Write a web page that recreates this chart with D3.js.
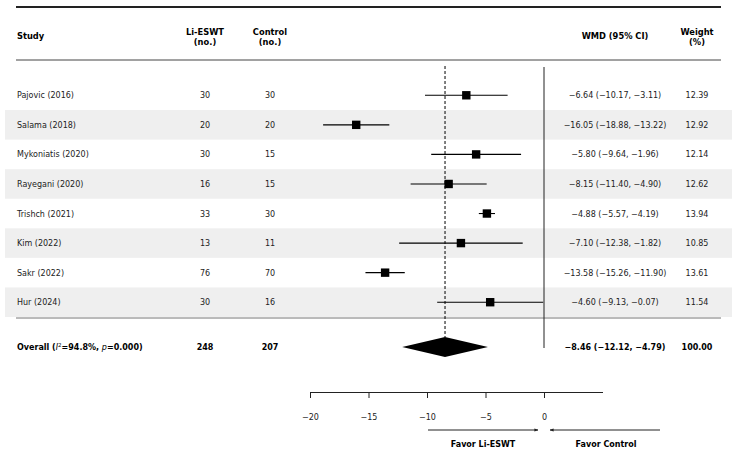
<!DOCTYPE html>
<html><head><meta charset="utf-8">
<script src="https://cdn.jsdelivr.net/npm/d3@7"></script>
<style>body{margin:0;background:#fff;} text{font-family:"DejaVu Sans",sans-serif;}</style>
</head><body><svg id="c" width="738" height="455"></svg>
<script>
const studies = ["Pajovic (2016)","Salama (2018)","Mykoniatis (2020)","Rayegani (2020)","Trishch (2021)","Kim (2022)","Sakr (2022)","Hur (2024)"];
const nTreat = [30,20,30,16,33,13,76,30];
const nCtrl = [30,20,15,15,30,11,70,16];
const wmd = [-6.64,-16.05,-5.80,-8.15,-4.88,-7.10,-13.58,-4.60];
const lo = [-10.17,-18.88,-9.64,-11.40,-5.57,-12.38,-15.26,-9.13];
const hi = [-3.11,-13.22,-1.96,-4.90,-4.19,-1.82,-11.90,-0.07];
const weight = [12.39,12.92,12.14,12.62,13.94,10.85,13.61,11.54];
const overall = {wmd:-8.46, lo:-12.12, hi:-4.79, nT:248, nC:207, w:100.00};
const ticks = [-20,-15,-10,-5,0];

const svg = d3.select("#c");
const x = d3.scaleLinear().domain([-20,0]).range([310,544]);
const y = d3.scaleBand().domain(studies).range([80.5,317]);
const yc = s => y(s)+y.bandwidth()/2;
const fmt = d3.format(".2f");
const m = v => fmt(v).replace(/-/g,"\u2212");

// shaded bands
svg.selectAll("rect.band").data(studies.filter((d,i)=>i%2===1)).enter().append("rect")
  .attr("x",5).attr("width",727).attr("y",d=>y(d)).attr("height",y.bandwidth()).attr("fill","#efefef");

// top lines
svg.append("line").attr("x1",16).attr("x2",721).attr("y1",7).attr("y2",7).attr("stroke","#222").attr("stroke-width",2);
svg.append("line").attr("x1",16).attr("x2",721).attr("y1",60).attr("y2",60).attr("stroke","#444").attr("stroke-width",1);
svg.append("line").attr("x1",16).attr("x2",721).attr("y1",318).attr("y2",318).attr("stroke","#777").attr("stroke-width",1);

// headers
const hdr = svg.append("g").attr("font-size",8.3).attr("font-weight","bold").attr("fill","#000");
hdr.append("text").attr("x",17).attr("y",39).text("Study");
[[205,"Li-ESWT","(no.)"],[270,"Control","(no.)"],[697,"Weight","(%)"]].forEach(([cx,a,b])=>{
  const t = hdr.append("text").attr("text-anchor","middle").attr("x",cx).attr("y",35);
  t.append("tspan").attr("x",cx).text(a);
  t.append("tspan").attr("x",cx).attr("dy",10).text(b);
});
hdr.append("text").attr("x",615).attr("y",39).attr("text-anchor","middle").text("WMD (95% CI)");

// reference lines
svg.append("line").attr("x1",x(0)).attr("x2",x(0)).attr("y1",67).attr("y2",348).attr("stroke","#222").attr("stroke-width",1);
svg.append("line").attr("x1",x(overall.wmd)).attr("x2",x(overall.wmd)).attr("y1",66).attr("y2",337).attr("stroke","#000").attr("stroke-width",1).attr("stroke-dasharray","3,2");

// rows
const rows = svg.selectAll("g.row").data(studies).enter().append("g").attr("font-size",8).attr("fill","#222");
rows.append("text").attr("x",17).attr("y",d=>yc(d)+3).text(d=>d);
rows.append("text").attr("x",205).attr("text-anchor","middle").attr("y",d=>yc(d)+3).text((d,i)=>nTreat[i]);
rows.append("text").attr("x",270).attr("text-anchor","middle").attr("y",d=>yc(d)+3).text((d,i)=>nCtrl[i]);
rows.append("text").attr("x",615).attr("text-anchor","middle").attr("y",d=>yc(d)+3).text((d,i)=>`${m(wmd[i])} (${m(lo[i])}, ${m(hi[i])})`);
rows.append("text").attr("x",697).attr("text-anchor","middle").attr("y",d=>yc(d)+3).text((d,i)=>fmt(weight[i]));
rows.append("line").attr("x1",(d,i)=>x(lo[i])).attr("x2",(d,i)=>x(hi[i])).attr("y1",yc).attr("y2",yc).attr("stroke","#000").attr("stroke-width",1.1);
rows.append("rect").attr("x",(d,i)=>x(wmd[i])-4.2).attr("y",d=>yc(d)-4.2).attr("width",8.4).attr("height",8.4).attr("fill","#000");

// overall row
const oy = 347;
const og = svg.append("g").attr("font-size",8).attr("font-weight","bold").attr("fill","#000");
const ot = og.append("text").attr("x",17).attr("y",oy+3);
ot.append("tspan").text("Overall (");
ot.append("tspan").attr("font-style","italic").attr("font-weight","normal").text("I");
ot.append("tspan").attr("font-size",5.5).attr("dy",-3).attr("font-weight","normal").text("2");
ot.append("tspan").attr("dy",3).text("=94.8%, ");
ot.append("tspan").attr("font-style","italic").attr("font-weight","normal").text("p");
ot.append("tspan").text("=0.000)");
og.append("text").attr("x",205).attr("text-anchor","middle").attr("y",oy+3).text(overall.nT);
og.append("text").attr("x",270).attr("text-anchor","middle").attr("y",oy+3).text(overall.nC);
og.append("text").attr("x",615).attr("text-anchor","middle").attr("y",oy+3).text(`${m(overall.wmd)} (${m(overall.lo)}, ${m(overall.hi)})`);
og.append("text").attr("x",697).attr("text-anchor","middle").attr("y",oy+3).text(fmt(overall.w));
svg.append("path").attr("d",`M${x(overall.lo)},${oy}L${x(overall.wmd)},${oy-10}L${x(overall.hi)},${oy}L${x(overall.wmd)},${oy+10}Z`).attr("fill","#000");

// axis
const ax = svg.append("g").attr("transform","translate(0,392)")
  .call(d3.axisBottom(x).tickValues(ticks).tickSize(6).tickPadding(16).tickSizeOuter(0).tickFormat(d=>String(d).replace("-","\u2212")));
ax.select(".domain").remove();
ax.append("line").attr("x1",x(-20)).attr("x2",603).attr("y1",0.5).attr("y2",0.5).attr("stroke","#222");
ax.selectAll("line").attr("stroke","#222");
ax.selectAll("text").attr("font-size",8).attr("font-family","DejaVu Sans").attr("fill","#222");

// arrows
const defs = svg.append("defs");
defs.append("marker").attr("id","ah").attr("viewBox","0 0 10 10").attr("refX",9).attr("refY",5)
  .attr("markerWidth",4).attr("markerHeight",4).attr("orient","auto-start-reverse")
  .append("path").attr("d","M0,1L10,5L0,9Z").attr("fill","#222");
svg.append("line").attr("x1",428).attr("x2",538).attr("y1",430).attr("y2",430).attr("stroke","#222").attr("marker-end","url(#ah)");
svg.append("line").attr("x1",660).attr("x2",550).attr("y1",430).attr("y2",430).attr("stroke","#222").attr("marker-end","url(#ah)");
svg.append("text").attr("x",483).attr("y",447).attr("text-anchor","middle").attr("font-size",8).attr("font-weight","bold").text("Favor Li-ESWT");
svg.append("text").attr("x",606).attr("y",447).attr("text-anchor","middle").attr("font-size",8).attr("font-weight","bold").text("Favor Control");
</script></body></html>
